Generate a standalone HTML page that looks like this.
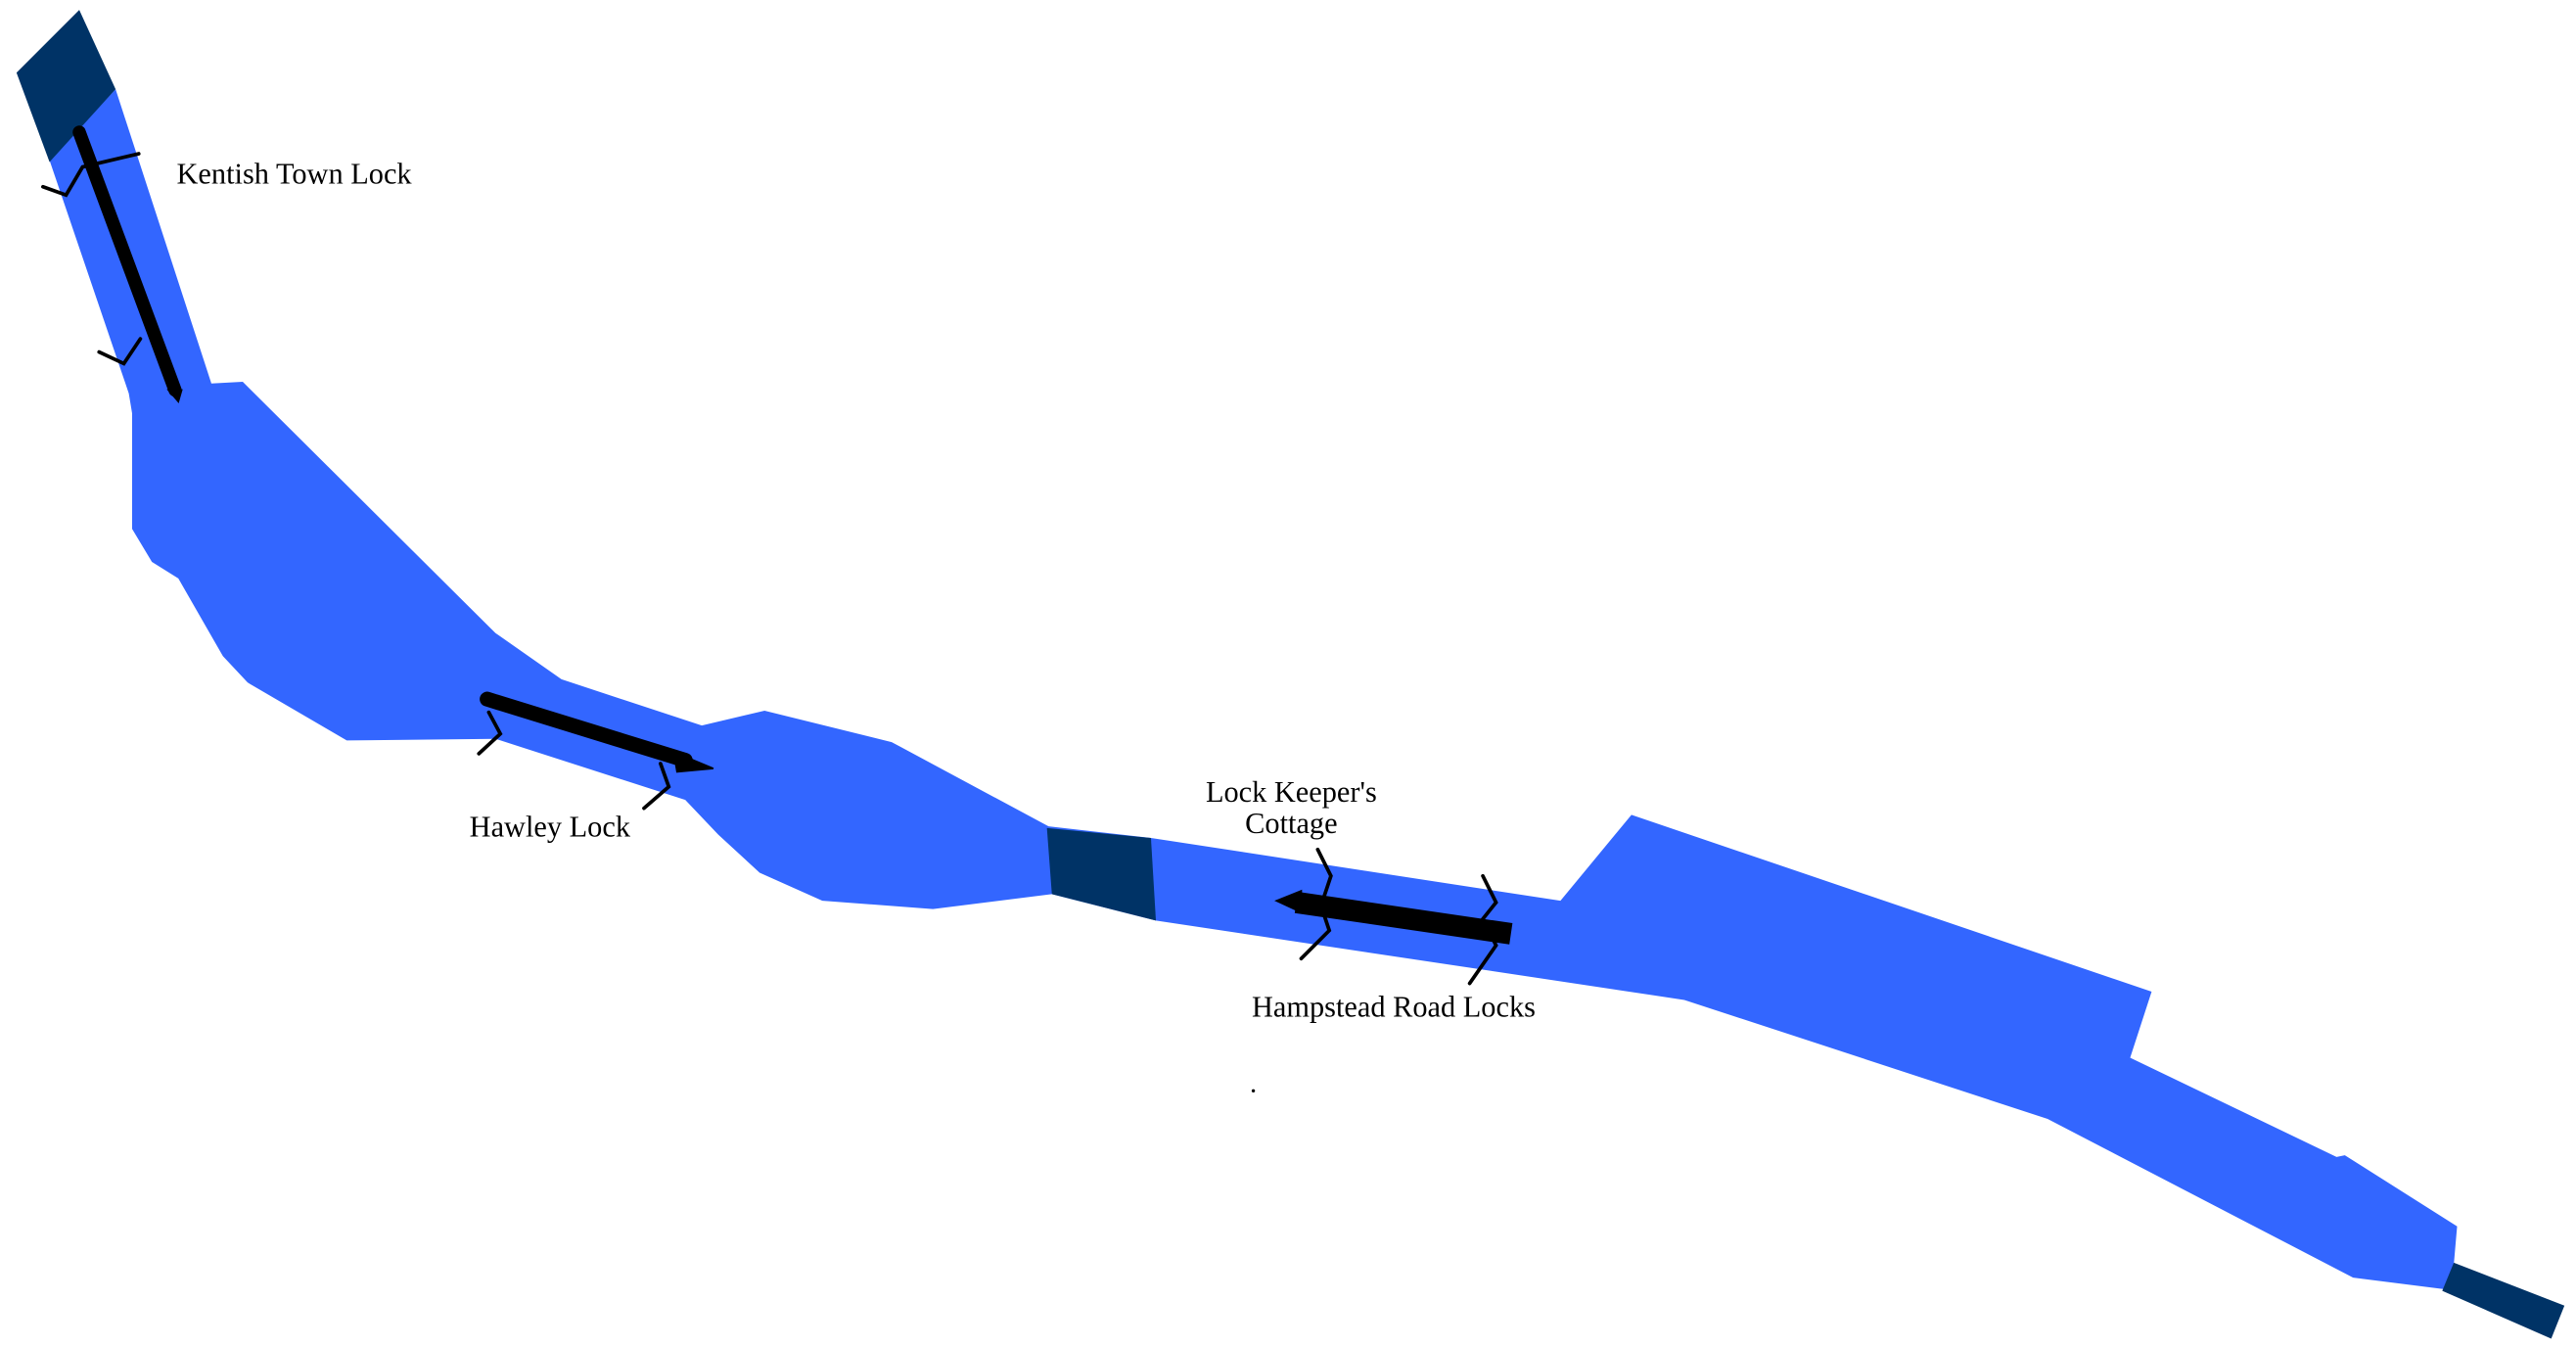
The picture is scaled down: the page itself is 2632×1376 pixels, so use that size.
<!DOCTYPE html>
<html><head><style>html,body{margin:0;padding:0;background:#fff}svg{display:block}</style></head>
<body>
<svg width="2632" height="1376" viewBox="0 0 1560 815" preserveAspectRatio="none" xmlns="http://www.w3.org/2000/svg">
<polygon fill="#3366ff" points="30,97 70,54 128,232 147,231 300,383 340,411 425,439 463,430 540,449 635,500 697,507 945,545 988,493 1303,600 1290,640 1415,700 1420,699 1488,742 1486,765 1480,780 1425,773 1240,677 1020,605 700,557 637,541 565,550 498,545 460,528 435,505 415,484 300,447 210,448 150,413 135,397 108,350 92,340 80,320 80,250 78,238"/>
<polygon fill="#003366" points="10,44 48,6 70,54 30,98"/>
<polygon fill="#003366" points="634,501 697,507 700,557 637,541"/>
<polygon fill="#003366" points="1486,764 1553,790 1545,810 1479,781"/>
<g stroke="#000" fill="none" stroke-linecap="round">
<line x1="48" y1="80" x2="106" y2="236" stroke-width="8"/>
<polygon points="102,236 110,236 108,243" fill="#000" stroke-width="1"/>
<line x1="295" y1="423" x2="415" y2="460" stroke-width="9"/>
<polygon fill="#000" stroke-width="1" points="408,455 432,465 410,467"/>
<line x1="785" y1="546" x2="915" y2="565" stroke-width="13" stroke-linecap="butt"/>
<polygon fill="#000" stroke-width="1" points="788,539 773,545 788,552"/>
<g stroke-width="2.2">
<polyline points="26,113 40,118 50,101 84,93"/>
<polyline points="60,213 75,220 85,205"/>
<polyline points="290,456 303,444 296,431"/>
<polyline points="390,489 405,476 400,462"/>
<polyline points="798,514 806,530 800,548 805,563 788,580"/>
<polyline points="898,530 906,546 898,556 906,572 890,595"/>
</g>
</g>
<g font-family="'Liberation Serif',serif" font-size="18" fill="#000">
<text x="107" y="111">Kentish Town Lock</text>
<text x="333" y="506" text-anchor="middle">Hawley Lock</text>
<text x="782" y="485" text-anchor="middle">Lock Keeper's</text>
<text x="782" y="504" text-anchor="middle">Cottage</text>
<text x="844" y="615" text-anchor="middle">Hampstead Road Locks</text>
</g>
<circle cx="759" cy="660" r="1" fill="#000"/>
</svg>
</body></html>
